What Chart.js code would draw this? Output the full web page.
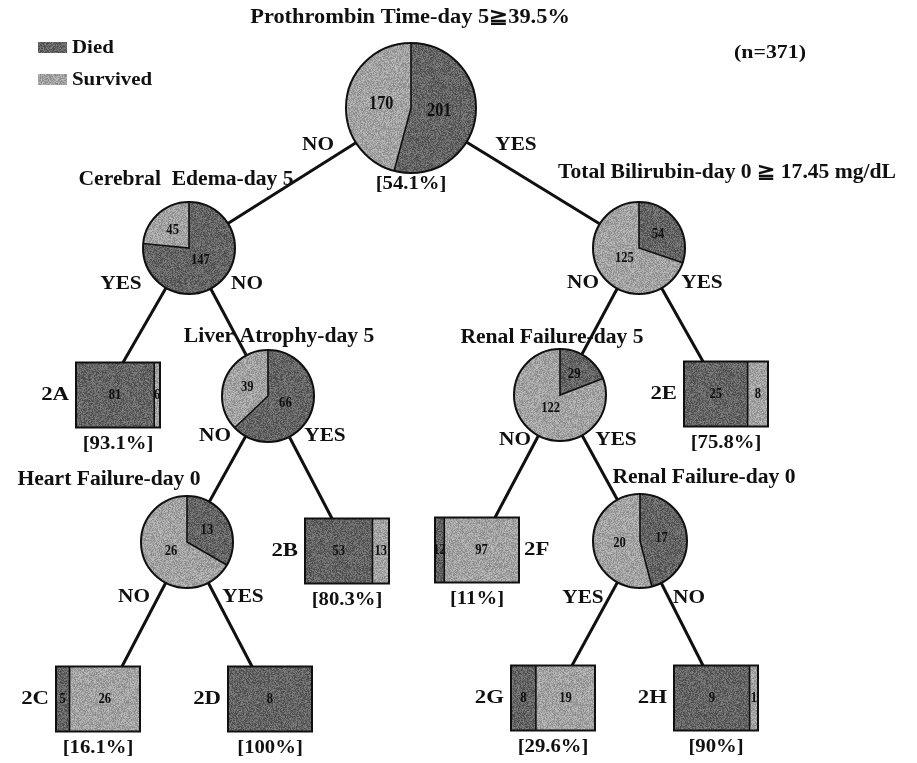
<!DOCTYPE html>
<html>
<head>
<meta charset="utf-8">
<script src="https://cdn.jsdelivr.net/npm/chart.js@4.4.0/dist/chart.umd.min.js"></script>
<style>
  html, body { margin: 0; padding: 0; background: #fff; }
  .wrap { position: relative; width: 917px; height: 763px; }
</style>
</head>
<body>
<div class="wrap"><canvas id="tree"></canvas></div>
<script>
// Split nodes (drawn as pies): question, died, survived
const splitNames = ['Prothrombin Time-day 5\u226739.5%', 'Cerebral  Edema-day 5', 'Total Bilirubin-day 0 \u2267 17.45 mg/dL',
  'Liver Atrophy-day 5', 'Renal Failure-day 5', 'Heart Failure-day 0', 'Renal Failure-day 0'];
const splitDied = [201, 147, 54, 66, 29, 13, 17];
const splitSurvived = [170, 45, 125, 39, 122, 26, 20];
const rootPct = '54.1%';

// Terminal nodes (drawn as boxes)
const leafIds = ['2A', '2B', '2C', '2D', '2E', '2F', '2G', '2H'];
const leafDied = [81, 53, 5, 8, 25, 12, 8, 9];
const leafSurvived = [6, 13, 26, 0, 8, 97, 19, 1];
const leafPct = ['93.1%', '80.3%', '16.1%', '100%', '75.8%', '11%', '29.6%', '90%'];

// Branches: parent split -> child ('s' = split, 'l' = leaf) and answer
const edgeFrom = [0, 0, 1, 1, 2, 2, 3, 3, 4, 4, 5, 5, 6, 6];
const edgeTo = ['s1', 's2', 'l0', 's3', 's4', 'l4', 's5', 'l1', 'l5', 's6', 'l2', 'l3', 'l6', 'l7'];
const edgeAnswer = ['NO', 'YES', 'YES', 'NO', 'NO', 'YES', 'NO', 'YES', 'NO', 'YES', 'NO', 'YES', 'YES', 'NO'];

const legendLabels = ['Died', 'Survived'];
const sampleLabel = '(n=371)';

// Layout in picture units (x to the right, y downwards)
const splitX = [411, 189, 639, 268, 560, 187, 640];
const splitY = [108, 248, 248, 396, 395, 542, 541];
const splitR = [65, 46, 46, 46, 46, 46, 47];
const questionX = [410, 186, 727, 279, 552, 109, 704];
const questionY = [18, 180, 173, 337, 338, 480, 478];
const leafX = [118, 347, 98, 270, 726, 477, 553, 716];
const leafY = [395, 551, 699, 699, 394, 550, 698, 698];
const leafW = 84, leafH = 65;
const leafIdSide = ['L', 'L', 'L', 'L', 'L', 'R', 'L', 'L'];
const leafLinkX = [123, 332, 122, 252, 703, 495, 572, 703];
const answerX = [318, 516, 121, 247, 583, 702, 215, 325, 515, 616, 134, 243, 583, 689];
const answerY = [145, 145, 284, 284, 283, 283, 436, 436, 440, 440, 597, 597, 598, 598];

const DARK = 100, LIGHT = 162;
const INK = '#101010';
const SERIF = '"Liberation Serif", "DejaVu Serif", serif';

// end point of a branch: centre of a split, top of a leaf box
function childPoint(code) {
  var k = +code.slice(1);
  if (code[0] == 's') return {x: splitX[k], y: splitY[k]};
  return {x: leafLinkX[k], y: leafY[k] - leafH / 2};
}

var edgeSets = edgeFrom.map((p, i) => ({
  data: [{x: splitX[p], y: splitY[p]}, childPoint(edgeTo[i])],
  showLine: true,
  borderColor: INK,
  borderWidth: 3,
  pointRadius: 0,
  fill: false
}));

// scanned look: grey with a fixed grain
function grain(ctx, base, amp, seed) {
  var c = document.createElement('canvas');
  c.width = c.height = 96;
  var g = c.getContext('2d');
  var img = g.createImageData(96, 96);
  for (var i = 0; i < 96 * 96; i++) {
    var h = Math.sin(i * 12.9898 + seed * 78.233) * 43758.5453;
    var f = h - Math.floor(h);
    var v = Math.max(0, Math.min(255, Math.round(base + (f - 0.5) * amp)));
    img.data[i * 4] = v; img.data[i * 4 + 1] = v; img.data[i * 4 + 2] = v; img.data[i * 4 + 3] = 255;
  }
  g.putImageData(img, 0, 0);
  return ctx.createPattern(c, 'repeat');
}

function text(ctx, s, x, y, size, align, stretch, weight) {
  ctx.save();
  ctx.font = (weight || 'bold') + ' ' + size + 'px ' + SERIF;
  ctx.textAlign = align || 'center';
  ctx.textBaseline = 'middle';
  ctx.fillStyle = INK;
  ctx.translate(x, y);
  ctx.scale(stretch || 1, 1);
  ctx.fillText(s, 0, 0);
  ctx.restore();
}

const treePlugin = {
  id: 'treeNodes',
  afterDatasetsDraw(chart) {
    const ctx = chart.ctx;
    const sx = chart.scales.x, sy = chart.scales.y;
    const px = v => sx.getPixelForValue(v);
    const py = v => sy.getPixelForValue(v);
    const dark = grain(ctx, DARK, 60, 1);
    const light = grain(ctx, LIGHT, 55, 2);

    // pies
    splitNames.forEach((name, i) => {
      var cx = px(splitX[i]), cy = py(splitY[i]);
      var r = px(splitX[i] + splitR[i]) - cx;
      var tot = splitDied[i] + splitSurvived[i];
      var a0 = -Math.PI / 2;
      var a1 = a0 + 2 * Math.PI * splitDied[i] / tot;
      var a2 = a0 + 2 * Math.PI;

      ctx.beginPath(); ctx.moveTo(cx, cy); ctx.arc(cx, cy, r, a0, a1); ctx.closePath();
      ctx.fillStyle = dark; ctx.fill();
      ctx.beginPath(); ctx.moveTo(cx, cy); ctx.arc(cx, cy, r, a1, a2); ctx.closePath();
      ctx.fillStyle = light; ctx.fill();

      ctx.strokeStyle = INK;
      ctx.lineWidth = 1.6;
      ctx.beginPath();
      ctx.moveTo(cx + r * Math.cos(a0), cy + r * Math.sin(a0)); ctx.lineTo(cx, cy);
      ctx.lineTo(cx + r * Math.cos(a1), cy + r * Math.sin(a1));
      ctx.stroke();
      ctx.lineWidth = 2;
      ctx.beginPath(); ctx.arc(cx, cy, r, 0, 2 * Math.PI); ctx.stroke();

      var fs = i == 0 ? 18 : 14;
      [[splitDied[i], (a0 + a1) / 2, splitDied[i] / tot], [splitSurvived[i], (a1 + a2) / 2, splitSurvived[i] / tot]].forEach(s => {
        var d = r * (0.6 - 0.3 * s[2]);
        text(ctx, String(s[0]), cx + d * Math.cos(s[1]), cy + d * Math.sin(s[1]), fs, 'center', 0.9);
      });

      text(ctx, name, px(questionX[i]), py(questionY[i]), 20, 'center', i == 0 ? 1.12 : 1.08);
    });
    text(ctx, '[' + rootPct + ']', px(splitX[0]), py(splitY[0] + splitR[0] + 11), 18, 'center', 1.15);

    // boxes
    leafIds.forEach((id, i) => {
      var x0 = px(leafX[i] - leafW / 2), x1 = px(leafX[i] + leafW / 2);
      var y0 = py(leafY[i] - leafH / 2), y1 = py(leafY[i] + leafH / 2);
      var tot = leafDied[i] + leafSurvived[i];
      var xm = x0 + (x1 - x0) * leafDied[i] / tot;
      var cy = (y0 + y1) / 2;

      ctx.fillStyle = dark; ctx.fillRect(x0, y0, xm - x0, y1 - y0);
      ctx.fillStyle = light; ctx.fillRect(xm, y0, x1 - xm, y1 - y0);
      ctx.strokeStyle = INK;
      if (leafSurvived[i] > 0) {
        ctx.lineWidth = 1.6;
        ctx.beginPath(); ctx.moveTo(xm, y0); ctx.lineTo(xm, y1); ctx.stroke();
      }
      ctx.lineWidth = 2;
      ctx.strokeRect(x0, y0, x1 - x0, y1 - y0);

      text(ctx, String(leafDied[i]), (x0 + xm) / 2, cy, 14, 'center', 0.9);
      if (leafSurvived[i] > 0) text(ctx, String(leafSurvived[i]), (xm + x1) / 2, cy, 14, 'center', 0.9);

      if (leafIdSide[i] == 'L') text(ctx, id, x0 - 7, cy, 19, 'right', 1.2);
      else text(ctx, id, x1 + 5, cy, 19, 'left', 1.2);
      text(ctx, '[' + leafPct[i] + ']', (x0 + x1) / 2, y1 + 17, 18, 'center', 1.15);
    });

    // branch answers
    edgeAnswer.forEach((a, i) => text(ctx, a, px(answerX[i]), py(answerY[i]), 19, 'center', 1.12));

    // legend and sample size
    [dark, light].forEach((pat, i) => {
      ctx.fillStyle = pat;
      ctx.fillRect(px(38), py(42 + i * 32), 29, 11);
      text(ctx, legendLabels[i], px(72), py(48 + i * 32), 19, 'left', 1.1);
    });
    text(ctx, sampleLabel, px(770), py(53), 19, 'center', 1.15);
  }
};

new Chart(document.getElementById('tree'), {
  type: 'scatter',
  data: {datasets: edgeSets},
  options: {
    responsive: true,
    maintainAspectRatio: false,
    animation: false,
    events: [],
    layout: {padding: 0},
    scales: {
      x: {type: 'linear', min: 0, max: 917, display: false},
      y: {type: 'linear', min: 0, max: 763, reverse: true, display: false}
    },
    plugins: {legend: {display: false}, tooltip: {enabled: false}}
  },
  plugins: [treePlugin]
});
</script>
</body>
</html>
